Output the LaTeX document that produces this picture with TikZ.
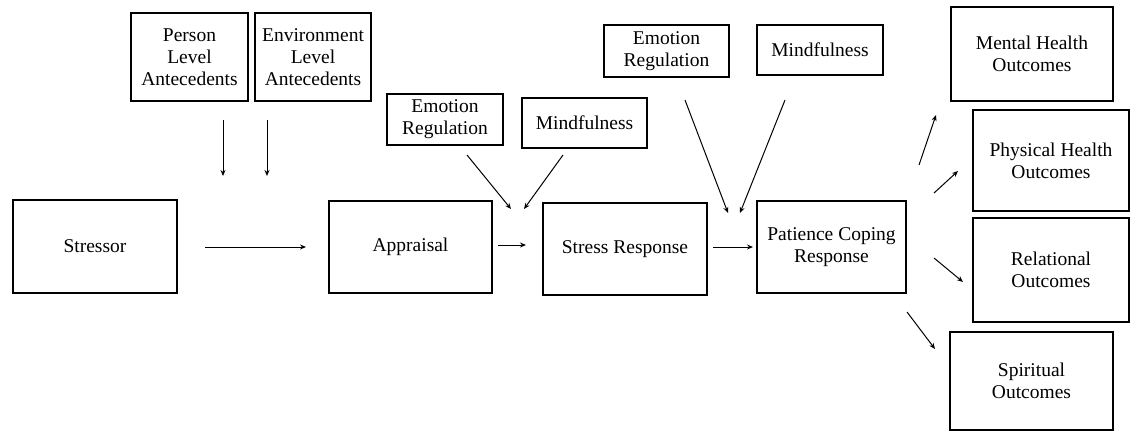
\documentclass[tikz,border=0pt]{standalone}
\usepackage{fontspec}
\setmainfont{Liberation Serif}
\usetikzlibrary{arrows.meta}
\tikzset{
  box/.style={draw, line width=1.8pt, align=center, inner sep=2pt,
              font=\fontsize{19.5}{22}\selectfont},
  link/.style={line width=1pt, -{Stealth[length=6pt,width=5pt]}},
}
\begin{document}
\begin{tikzpicture}[x=1pt,y=-1pt]
\useasboundingbox (0,0) rectangle (1130,434);

% antecedents
\node[box, minimum width=117, minimum height=88] (person) at (189.5,57) {Person\\Level\\Antecedents};
\node[box, minimum width=116, minimum height=88] (env) at (313,57) {Environment\\Level\\Antecedents};

% main chain
\node[box, minimum width=164, minimum height=93] (stressor) at (95,246.5) {Stressor};
\node[box, minimum width=163, minimum height=92] (appraisal) at (410.5,247) {Appraisal};
\node[box, minimum width=164, minimum height=92] (stress) at (625,249) {Stress Response};
\node[box, minimum width=149, minimum height=92] (coping) at (831.5,247) {Patience Coping\\Response};

% moderators
\node[box, minimum width=116, minimum height=51] (er1) at (445,119.5) {Emotion\\Regulation};
\node[box, minimum width=125, minimum height=50] (mind1) at (584.5,123) {Mindfulness};
\node[box, minimum width=125, minimum height=52] (er2) at (666.5,51) {Emotion\\Regulation};
\node[box, minimum width=126, minimum height=50] (mind2) at (820,50) {Mindfulness};

% outcomes
\node[box, minimum width=162, minimum height=94] (mental) at (1032,54) {Mental Health\\Outcomes};
\node[box, minimum width=156, minimum height=101] (physical) at (1051,160.5) {Physical Health\\Outcomes};
\node[box, minimum width=156, minimum height=104] (relational) at (1051,270) {Relational\\Outcomes};
\node[box, minimum width=163, minimum height=98] (spiritual) at (1031.5,381) {Spiritual\\Outcomes};

% free arrow ends
\coordinate (pA) at (223,120);  \coordinate (pB) at (223,176);
\coordinate (eA) at (267,120);  \coordinate (eB) at (267,176);
\coordinate (sA) at (205,247);  \coordinate (sB) at (306,247);
\coordinate (aA) at (498,245);  \coordinate (aB) at (526,245);
\coordinate (rA) at (467,155);  \coordinate (rB) at (511,209);
\coordinate (mA) at (563,155);  \coordinate (mB) at (524,209);
\coordinate (tA) at (713,247);  \coordinate (tB) at (753,247);
\coordinate (qA) at (685,100);  \coordinate (qB) at (728,213);
\coordinate (nA) at (785,100);  \coordinate (nB) at (740,213);
\coordinate (o1A) at (919,165); \coordinate (o1B) at (936,115);
\coordinate (o2A) at (934,193); \coordinate (o2B) at (958,171);
\coordinate (o3A) at (934,258); \coordinate (o3B) at (963,282);
\coordinate (o4A) at (907,312); \coordinate (o4B) at (935,349);

\draw[link] (pA) -- (pB);
\draw[link] (eA) -- (eB);
\draw[link] (sA) -- (sB);
\draw[link] (aA) -- (aB);
\draw[link] (rA) -- (rB);
\draw[link] (mA) -- (mB);
\draw[link] (tA) -- (tB);
\draw[link] (qA) -- (qB);
\draw[link] (nA) -- (nB);
\draw[link] (o1A) -- (o1B);
\draw[link] (o2A) -- (o2B);
\draw[link] (o3A) -- (o3B);
\draw[link] (o4A) -- (o4B);
\end{tikzpicture}
\end{document}
